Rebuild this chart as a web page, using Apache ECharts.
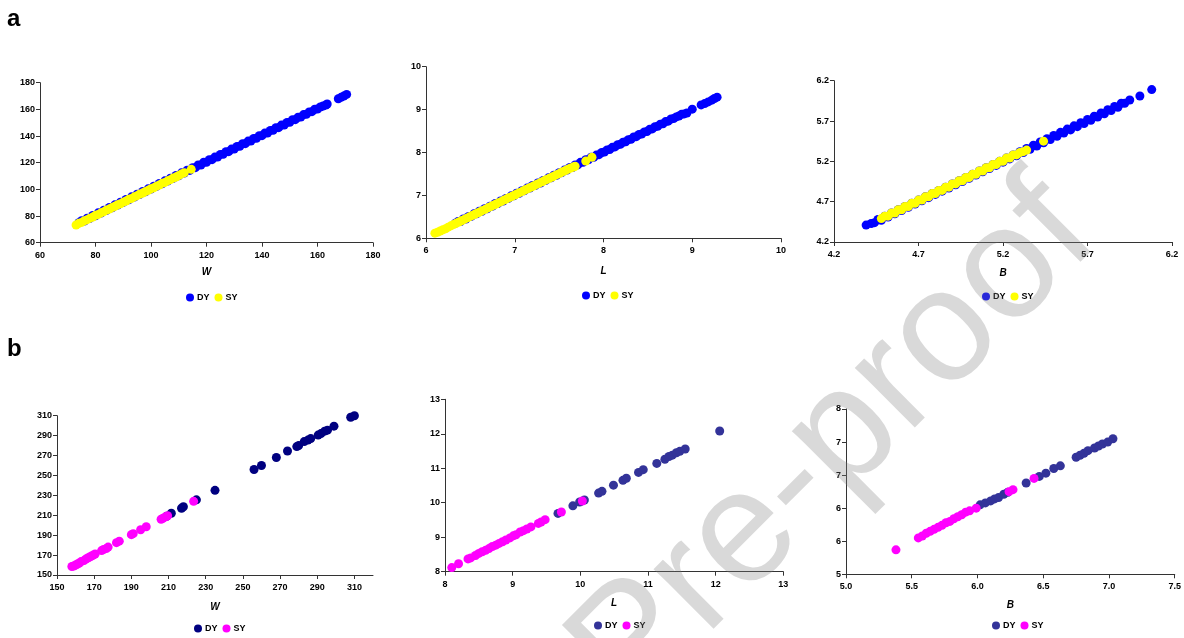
<!DOCTYPE html>
<html>
<head>
<meta charset="utf-8">
<script src="https://cdn.jsdelivr.net/npm/echarts@6/dist/echarts.min.js"></script>
<style>html,body{margin:0;padding:0;background:#fff;}#c{width:1184px;height:638px;}</style>
</head>
<body>
<div id="c"></div>
<script>
// ---------- Panel a: W ----------
const aW_DY = [[74,75],[75,76.5],[76,76.2],[77,78.4],[78,78.2],[79,80.4],[80,80.2],[81,82.4],[82,82.2],[83,84.4],[84,84.2],[85,86.4],[86,86.2],[87,88.4],[88,88.2],[89,90.4],[90,90.2],[91,92.4],[92,92.2],[93,94.4],[94,94.2],[95,96.4],[96,96.2],[97,98.4],[98,98.2],[99,100.4],[100,100.2],[101,102.4],[102,102.2],[103,104.4],[104,104.2],[105,106.4],[106,106.2],[107,108.4],[108,108.2],[109,110.4],[110,110.2],[111,112.4],[112,112.2],[113,114.4],[114,114.2],[115,116.3],[116,116.3],[117,118.3],[118,118.3],[119,120.3],[120,120.3],[121,122.2],[122,122.3],[123,124.2],[124,124.3],[125,126.2],[126,126.3],[127,128.2],[128,128.3],[129,130.2],[130,130.3],[131,132.2],[132,132.3],[133,134.2],[134,134.3],[135,136.2],[136,136.3],[137,138.2],[138,138.3],[139,140.2],[140,140.3],[141,142.2],[142,142.3],[143,144.2],[144,144.3],[145,146.2],[146,146.3],[147,148.2],[148,148.3],[149,150.2],[150,150.3],[151,152.2],[152,152.3],[153,154.1],[154,154.3],[155,156.1],[156,156.3],[157,158.1],[158,158.3],[159,160.1],[160,160.3],[161,161.8],[162,162.5],[163,163.3],[163.5,164],[167.5,168],[168.5,169],[169.5,170],[170.5,171.2]];
const aW_SY = [[73,73.3],[74,74.5],[75,75.2],[76,76.5],[77,77.3],[78,78.4],[79,79.2],[80,80.5],[81,81.2],[82,82.4],[83,83.3],[84,84.5],[85,85.2],[86,86.4],[87,87.3],[88,88.5],[89,89.2],[90,90.4],[91,91.3],[92,92.5],[93,93.2],[94,94.4],[95,95.3],[96,96.5],[97,97.2],[98,98.4],[99,99.3],[100,100.5],[101,101.2],[102,102.4],[103,103.3],[104,104.5],[105,105.2],[106,106.4],[107,107.3],[108,108.5],[109,109.2],[110,110.4],[111,111.6],[112,112.5],[114.5,115]];
// ---------- Panel a: L ----------
const aL_DY = [[6.33,6.35],[6.36,6.39],[6.39,6.39],[6.42,6.45],[6.45,6.45],[6.48,6.51],[6.51,6.51],[6.54,6.57],[6.57,6.57],[6.6,6.63],[6.63,6.63],[6.66,6.69],[6.69,6.69],[6.72,6.75],[6.75,6.75],[6.78,6.81],[6.81,6.81],[6.84,6.87],[6.87,6.87],[6.9,6.93],[6.93,6.93],[6.96,6.99],[6.99,6.99],[7.02,7.05],[7.05,7.05],[7.08,7.11],[7.11,7.11],[7.14,7.17],[7.17,7.17],[7.2,7.23],[7.23,7.23],[7.26,7.29],[7.29,7.29],[7.32,7.35],[7.35,7.35],[7.38,7.41],[7.41,7.41],[7.44,7.47],[7.47,7.47],[7.5,7.53],[7.53,7.53],[7.56,7.59],[7.59,7.59],[7.62,7.65],[7.65,7.65],[7.68,7.71],[7.71,7.71],[7.74,7.77],[7.77,7.77],[7.8,7.83],[7.83,7.83],[7.86,7.89],[7.89,7.89],[7.92,7.94],[7.95,7.95],[7.98,8.0],[8.01,8.01],[8.04,8.06],[8.07,8.07],[8.1,8.12],[8.13,8.13],[8.16,8.18],[8.19,8.19],[8.22,8.24],[8.25,8.25],[8.28,8.3],[8.31,8.31],[8.34,8.36],[8.37,8.37],[8.4,8.42],[8.43,8.43],[8.46,8.48],[8.49,8.49],[8.52,8.54],[8.55,8.55],[8.58,8.6],[8.61,8.61],[8.64,8.66],[8.67,8.67],[8.7,8.72],[8.73,8.73],[8.76,8.78],[8.79,8.79],[8.82,8.83],[8.85,8.85],[8.88,8.89],[8.91,8.9],[8.94,8.92],[9.0,9.01],[9.1,9.11],[9.14,9.14],[9.18,9.18],[9.22,9.22],[9.25,9.26],[9.28,9.29]];
const aL_SY = [[6.1,6.12],[6.13,6.14],[6.16,6.17],[6.19,6.2],[6.22,6.22],[6.25,6.26],[6.28,6.29],[6.31,6.32],[6.34,6.35],[6.37,6.38],[6.4,6.41],[6.43,6.44],[6.46,6.47],[6.49,6.5],[6.52,6.53],[6.55,6.56],[6.58,6.59],[6.61,6.62],[6.64,6.65],[6.67,6.68],[6.7,6.71],[6.73,6.74],[6.76,6.77],[6.79,6.8],[6.82,6.83],[6.85,6.86],[6.88,6.89],[6.91,6.92],[6.94,6.95],[6.97,6.98],[7.0,7.01],[7.03,7.04],[7.06,7.07],[7.09,7.1],[7.12,7.13],[7.15,7.16],[7.18,7.19],[7.21,7.22],[7.24,7.25],[7.27,7.28],[7.3,7.31],[7.33,7.34],[7.36,7.37],[7.39,7.4],[7.42,7.43],[7.45,7.46],[7.48,7.49],[7.51,7.52],[7.54,7.55],[7.57,7.58],[7.6,7.61],[7.63,7.64],[7.66,7.66],[7.68,7.68],[7.8,7.8],[7.87,7.89]];
// ---------- Panel a: B ----------
const aB_DY = [[4.39,4.41],[4.42,4.43],[4.44,4.44],[4.46,4.48],[4.48,4.47],[4.5,4.52],[4.52,4.51],[4.54,4.56],[4.56,4.55],[4.58,4.6],[4.6,4.59],[4.62,4.64],[4.64,4.63],[4.66,4.68],[4.68,4.67],[4.7,4.72],[4.72,4.71],[4.74,4.76],[4.76,4.75],[4.78,4.8],[4.8,4.79],[4.82,4.84],[4.84,4.83],[4.86,4.88],[4.88,4.87],[4.9,4.92],[4.92,4.91],[4.94,4.96],[4.96,4.95],[4.98,5.0],[5.0,4.99],[5.02,5.04],[5.04,5.03],[5.06,5.08],[5.08,5.07],[5.1,5.12],[5.12,5.11],[5.14,5.16],[5.16,5.15],[5.18,5.2],[5.2,5.19],[5.22,5.24],[5.24,5.23],[5.26,5.28],[5.28,5.27],[5.3,5.32],[5.32,5.31],[5.34,5.36],[5.36,5.35],[5.38,5.4],[5.4,5.39],[5.42,5.44],[5.44,5.43],[5.46,5.48],[5.48,5.47],[5.5,5.52],[5.52,5.51],[5.54,5.56],[5.56,5.55],[5.58,5.6],[5.6,5.59],[5.62,5.64],[5.64,5.63],[5.66,5.68],[5.68,5.67],[5.7,5.72],[5.72,5.71],[5.74,5.76],[5.76,5.75],[5.78,5.8],[5.8,5.79],[5.82,5.84],[5.84,5.83],[5.86,5.88],[5.88,5.87],[5.9,5.92],[5.92,5.92],[5.95,5.96],[6.01,6.01],[6.08,6.09]];
const aB_SY = [[4.48,4.49],[4.5,4.52],[4.52,4.52],[4.54,4.56],[4.56,4.56],[4.58,4.6],[4.6,4.6],[4.62,4.64],[4.64,4.64],[4.66,4.68],[4.68,4.68],[4.7,4.72],[4.72,4.72],[4.74,4.76],[4.76,4.76],[4.78,4.8],[4.8,4.8],[4.82,4.84],[4.84,4.84],[4.86,4.88],[4.88,4.88],[4.9,4.92],[4.92,4.92],[4.94,4.96],[4.96,4.96],[4.98,5.0],[5.0,5.0],[5.02,5.04],[5.04,5.04],[5.06,5.08],[5.08,5.08],[5.1,5.12],[5.12,5.12],[5.14,5.16],[5.16,5.16],[5.18,5.2],[5.2,5.2],[5.22,5.24],[5.24,5.24],[5.26,5.28],[5.28,5.28],[5.3,5.31],[5.32,5.32],[5.34,5.34],[5.44,5.45]];
// ---------- Panel b: W ----------
const bW_DY = [[209,209],[211.5,212],[217,217],[218,218.5],[225,225.5],[235,235],[256,256],[260,260],[268,268],[274,274.5],[279,279],[280,280],[283,284],[285,285.5],[286.5,287],[290.5,290.5],[292,292],[294,294.5],[295.5,295.5],[299,299.5],[308,308.5],[310,310]];
const bW_SY = [[158,158.5],[159,159],[160,160],[161,161],[162,162],[163,163.5],[164.5,164.5],[165.5,166],[166.5,167],[167.5,168],[168.5,169],[169.5,170],[170.5,171],[174,174.5],[175,175.5],[176.5,176.5],[177.5,178],[182,182.5],[183.5,184],[190,190.5],[191,191.5],[195,195.5],[198,198.5],[206,206],[207,207],[208.5,208.5],[209.5,209.5],[223.5,224]];
// ---------- Panel b: L ----------
const bL_DY = [[9.67,9.69],[9.89,9.91],[9.99,10.02],[10.06,10.08],[10.27,10.28],[10.32,10.33],[10.49,10.51],[10.63,10.65],[10.68,10.71],[10.86,10.88],[10.93,10.96],[11.13,11.14],[11.25,11.26],[11.31,11.34],[11.36,11.38],[11.42,11.45],[11.47,11.49],[11.55,11.56],[12.06,12.08]];
const bL_SY = [[8.1,8.12],[8.2,8.23],[8.34,8.37],[8.38,8.4],[8.45,8.47],[8.5,8.53],[8.55,8.58],[8.6,8.62],[8.65,8.67],[8.7,8.73],[8.75,8.77],[8.8,8.82],[8.85,8.87],[8.9,8.92],[8.96,8.98],[9.01,9.04],[9.05,9.07],[9.11,9.15],[9.16,9.19],[9.21,9.24],[9.27,9.3],[9.38,9.4],[9.42,9.44],[9.48,9.51],[9.72,9.73],[10.03,10.05]];
// ---------- Panel b: B ----------
const bB_DY = [[6.02,6.05],[6.06,6.08],[6.1,6.11],[6.13,6.14],[6.16,6.16],[6.2,6.21],[6.23,6.24],[6.37,6.38],[6.47,6.48],[6.52,6.53],[6.58,6.6],[6.63,6.64],[6.75,6.77],[6.78,6.8],[6.81,6.83],[6.84,6.87],[6.89,6.91],[6.92,6.94],[6.95,6.97],[6.99,7.0],[7.03,7.05]];
const bB_SY = [[5.38,5.37],[5.55,5.55],[5.58,5.58],[5.61,5.62],[5.64,5.65],[5.67,5.68],[5.7,5.71],[5.73,5.74],[5.76,5.78],[5.79,5.8],[5.82,5.84],[5.85,5.87],[5.88,5.9],[5.91,5.94],[5.94,5.96],[5.99,6.0],[6.24,6.25],[6.27,6.28],[6.43,6.45]];

// tick labels
const ticks_aW = [60,80,100,120,140,160,180];
const ticks_aL = [6,7,8,9,10];
const ticks_aB = [4.2,4.7,5.2,5.7,6.2];
const ticks_bW_x = [150,170,190,210,230,250,270,290,310];
const ticks_bW_y = [150,170,190,210,230,250,270,290,310];
const ticks_bL = [8,9,10,11,12,13];
const ticks_bB_x = [5.0,5.5,6.0,6.5,7.0,7.5];
const ticks_bB_y = [5.0,5.5,6.0,6.5,7.0,7.5];

const seriesLabels = ['DY','SY'];

const FONT = '"Liberation Sans", Arial, sans-serif';
const axisCol = '#333';

const grids = [
  {left:40, top:82.7, width:333, height:160},
  {left:426, top:66.7, width:355, height:171.6},
  {left:834, top:80.7, width:338, height:161.3},
  {left:57, top:415.7, width:316, height:159.3},
  {left:445, top:399.3, width:338.3, height:172.4},
  {left:846, top:409, width:330, height:165.3}
];
const nameGaps = [25, 28, 26, 27, 27, 26];

function valAxis(gi, min, max, ticks, isX, fmt, nameStr, gap) {
  const ax = {
    type:'value', gridIndex:gi, min:min, max:max,
    splitLine:{show:false},
    axisLine:{show:true, onZero:false, lineStyle:{color:axisCol, width:1}},
    axisTick:{show:true, length:4, inside:false, lineStyle:{color:axisCol}, customValues:ticks},
    axisLabel:{fontFamily:FONT, fontWeight:'bold', fontSize:9, color:'#000', margin: isX?8:5,
      customValues:ticks, formatter: fmt || (v=>String(v)), hideOverlap:false},
  };
  if (isX && nameStr) {
    ax.name = nameStr; ax.nameLocation='middle'; ax.nameGap=gap;
    ax.nameTextStyle = {fontFamily:FONT, fontWeight:'bold', fontStyle:'italic', fontSize:10, color:'#000'};
  }
  return ax;
}

const xAxes = [
  valAxis(0,60,180,ticks_aW,true,null,'W',nameGaps[0]),
  valAxis(1,6,10,ticks_aL,true,null,'L',nameGaps[1]),
  valAxis(2,4.2,6.2,ticks_aB,true,v=>v.toFixed(1),'B',nameGaps[2]),
  valAxis(3,150,320,ticks_bW_x,true,null,'W',nameGaps[3]),
  valAxis(4,8,13,ticks_bL,true,null,'L',nameGaps[4]),
  valAxis(5,5,7.5,ticks_bB_x,true,v=>v.toFixed(1),'B',nameGaps[5])
];
const yAxes = [
  valAxis(0,60,180,ticks_aW,false),
  valAxis(1,6,10,ticks_aL,false),
  valAxis(2,4.2,6.2,ticks_aB,false,v=>v.toFixed(1)),
  valAxis(3,150,310,ticks_bW_y,false),
  valAxis(4,8,13,ticks_bL,false),
  valAxis(5,5,7.5,ticks_bB_y,false,v=>String(Math.round(v)))
];

const panelData = [
  [aW_DY,aW_SY],[aL_DY,aL_SY],[aB_DY,aB_SY],
  [bW_DY,bW_SY],[bL_DY,bL_SY],[bB_DY,bB_SY]
];
const colors = [
  ['#0000FF','#FFFF00'],['#0000FF','#FFFF00'],['#0000FF','#FFFF00'],
  ['#000080','#FF00FF'],['#333399','#FF00FF'],['#333399','#FF00FF']
];
const symSizes = [9,9,9,9,9,9];

const series = [];
panelData.forEach((pd, i) => {
  pd.forEach((d, k) => {
    series.push({
      type:'scatter', name: seriesLabels[k] + (i ? '_' + i : ''),
      xAxisIndex:i, yAxisIndex:i, data:d,
      symbol:'circle', symbolSize:symSizes[i],
      itemStyle:{color:colors[i][k], opacity:1},
      emphasis:{disabled:true}, animation:false, z: 2 + k
    });
  });
});

const legendPos = [
  {left:181, top:288},{left:577, top:286},{left:977, top:287},
  {left:189, top:619},{left:589, top:616},{left:987, top:616}
];
const legends = legendPos.map((p, i) => ({
  left:p.left, top:p.top, orient:'horizontal',
  itemWidth:8, itemHeight:8, itemGap:5, icon:'circle', selectedMode:false,
  textStyle:{fontFamily:FONT, fontWeight:'bold', fontSize:9, color:'#000', padding:[0,0,0,-2]},
  data: seriesLabels.map((s, k) => ({name: s + (i ? '_' + i : ''), itemStyle:{color:colors[i][k]}})),
  formatter: n => n.split('_')[0]
}));

const chart = echarts.init(document.getElementById('c'), null, {renderer:'canvas'});
chart.setOption({
  animation:false,
  backgroundColor:'#fff',
  grid: grids,
  xAxis: xAxes,
  yAxis: yAxes,
  legend: legends,
  series: series,
  graphic: [
    {type:'text', left:7, top:7, style:{text:'a', font:'bold 24px ' + FONT, fill:'#000'}},
    {type:'text', left:7, top:337, style:{text:'b', font:'bold 24px ' + FONT, fill:'#000'}},
    {type:'text', x:835, y:445, rotation:45*Math.PI/180, silent:true, z:100, zlevel:0,
      style:{text:'Pre-proof', font:'160px ' + FONT, fill:'rgba(128,128,128,0.3)', align:'center', verticalAlign:'middle'}}
  ]
});
</script>
</body>
</html>
